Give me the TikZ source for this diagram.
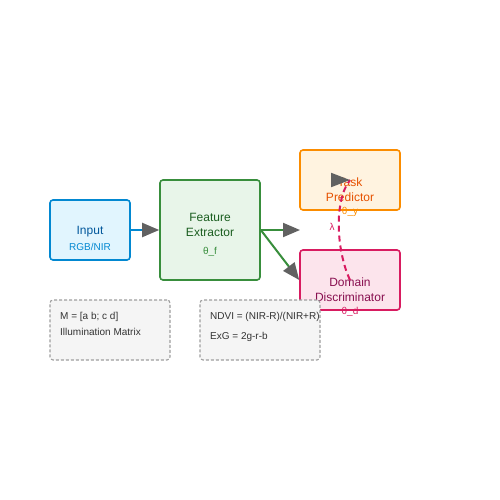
\documentclass[tikz,border=0pt]{standalone}
\usepackage{fontspec}
\setmainfont{Liberation Sans}
\usetikzlibrary{arrows.meta}
\definecolor{infill}{HTML}{E1F5FE}
\definecolor{inline}{HTML}{0288D1}
\definecolor{intext}{HTML}{01579B}
\definecolor{fefill}{HTML}{E8F5E9}
\definecolor{feline}{HTML}{388E3C}
\definecolor{fetext}{HTML}{1B5E20}
\definecolor{tpfill}{HTML}{FFF3E0}
\definecolor{tpline}{HTML}{FB8C00}
\definecolor{tptext}{HTML}{E65100}
\definecolor{ddfill}{HTML}{FCE4EC}
\definecolor{ddline}{HTML}{D81B60}
\definecolor{ddtext}{HTML}{880E4F}
\definecolor{notefill}{HTML}{F5F5F5}
\definecolor{noteline}{HTML}{9E9E9E}
\definecolor{notetext}{HTML}{333333}
\definecolor{tipgrey}{HTML}{616161}
\tikzset{
	block/.style={draw, line width=1.6pt, rounded corners=3pt, inner sep=0pt},
	notebox/.style={draw=noteline, fill=notefill, line width=1.1pt, dash pattern=on 3pt off 2pt, rounded corners=3pt, inner sep=0pt, minimum width=120pt, minimum height=60pt},
	big/.style={font=\fontsize{12}{14}\selectfont, inner sep=0pt},
	small/.style={font=\fontsize{10}{12}\selectfont, inner sep=0pt},
	note/.style={font=\fontsize{10}{12}\selectfont, inner sep=0pt, anchor=west, text=notetext},
	flow/.style={line width=2pt, -{Triangle[length=17pt, width=14pt, color=tipgrey]}},
}
\begin{document}
\begin{tikzpicture}[x=1pt, y=-1pt]
	\useasboundingbox ( 0, 0 ) rectangle ( 500, 500 );

	% блоки
	\node [block, draw=inline, fill=infill, minimum width=80pt, minimum height=60pt] (input) at ( 90, 230 ) {};
	\node [block, draw=feline, fill=fefill, minimum width=100pt, minimum height=100pt] (feat) at ( 210, 230 ) {};
	\node [block, draw=tpline, fill=tpfill, minimum width=100pt, minimum height=60pt] (task) at ( 350, 180 ) {};
	\node [block, draw=ddline, fill=ddfill, minimum width=100pt, minimum height=60pt] (dom) at ( 350, 280 ) {};

	% подписи блоков
	\node [big, text=intext] (inputa) at ( 90, 232 ) {Input};
	\node [small, text=inline] (inputb) at ( 90, 247 ) {RGB/NIR};
	\node [big, text=fetext] (feata) at ( 210, 217 ) {Feature};
	\node [big, text=fetext] (featb) at ( 210, 232 ) {Extractor};
	\node [small, text=feline] (featc) at ( 210, 252 ) {θ\_f};
	\node [big, text=tptext] (taska) at ( 350, 182 ) {Task};
	\node [big, text=tptext] (taskb) at ( 350, 197 ) {Predictor};
	\node [small, text=tpline] (taskc) at ( 350, 212 ) {θ\_y};
	\node [big, text=ddtext] (doma) at ( 350, 282 ) {Domain};
	\node [big, text=ddtext] (domb) at ( 350, 297 ) {Discriminator};
	\node [small, text=ddline] (domc) at ( 350, 312 ) {θ\_d};

	% заметки
	\node [notebox] (illum) at ( 110, 330 ) {};
	\node [note] (illuma) at ( 60, 317 ) {M = [a b; c d]};
	\node [note] (illumb) at ( 60, 332 ) {Illumination Matrix};
	\node [notebox] (index) at ( 260, 330 ) {};
	\node [note] (indexa) at ( 210, 317 ) {NDVI = (NIR-R)/(NIR+R)};
	\node [note] (indexb) at ( 210, 337 ) {ExG = 2g-r-b};

	% связи
	\coordinate (taskin) at ( 300, 230 );
	\coordinate (tipbase) at ( 331, 180 );
	\draw [flow, draw=inline] (input.east) -- (feat.west);
	\draw [flow, draw=feline] (feat.east) -- (taskin);
	\draw [flow, draw=feline] (feat.east) -- (dom.west);
	\draw [line width=2pt, draw=ddline, dash pattern=on 6pt off 4pt]
		(dom.center) .. controls ( 336, 250 ) and ( 334, 200 ) .. (task.center);
	\draw [line width=2pt, draw=ddline, -{Triangle[length=19pt, width=14pt, color=tipgrey]}] (tipbase) -- (task.center);
	\node [small, text=ddline] (lambda) at ( 332, 227 ) {λ};
\end{tikzpicture}
\end{document}
